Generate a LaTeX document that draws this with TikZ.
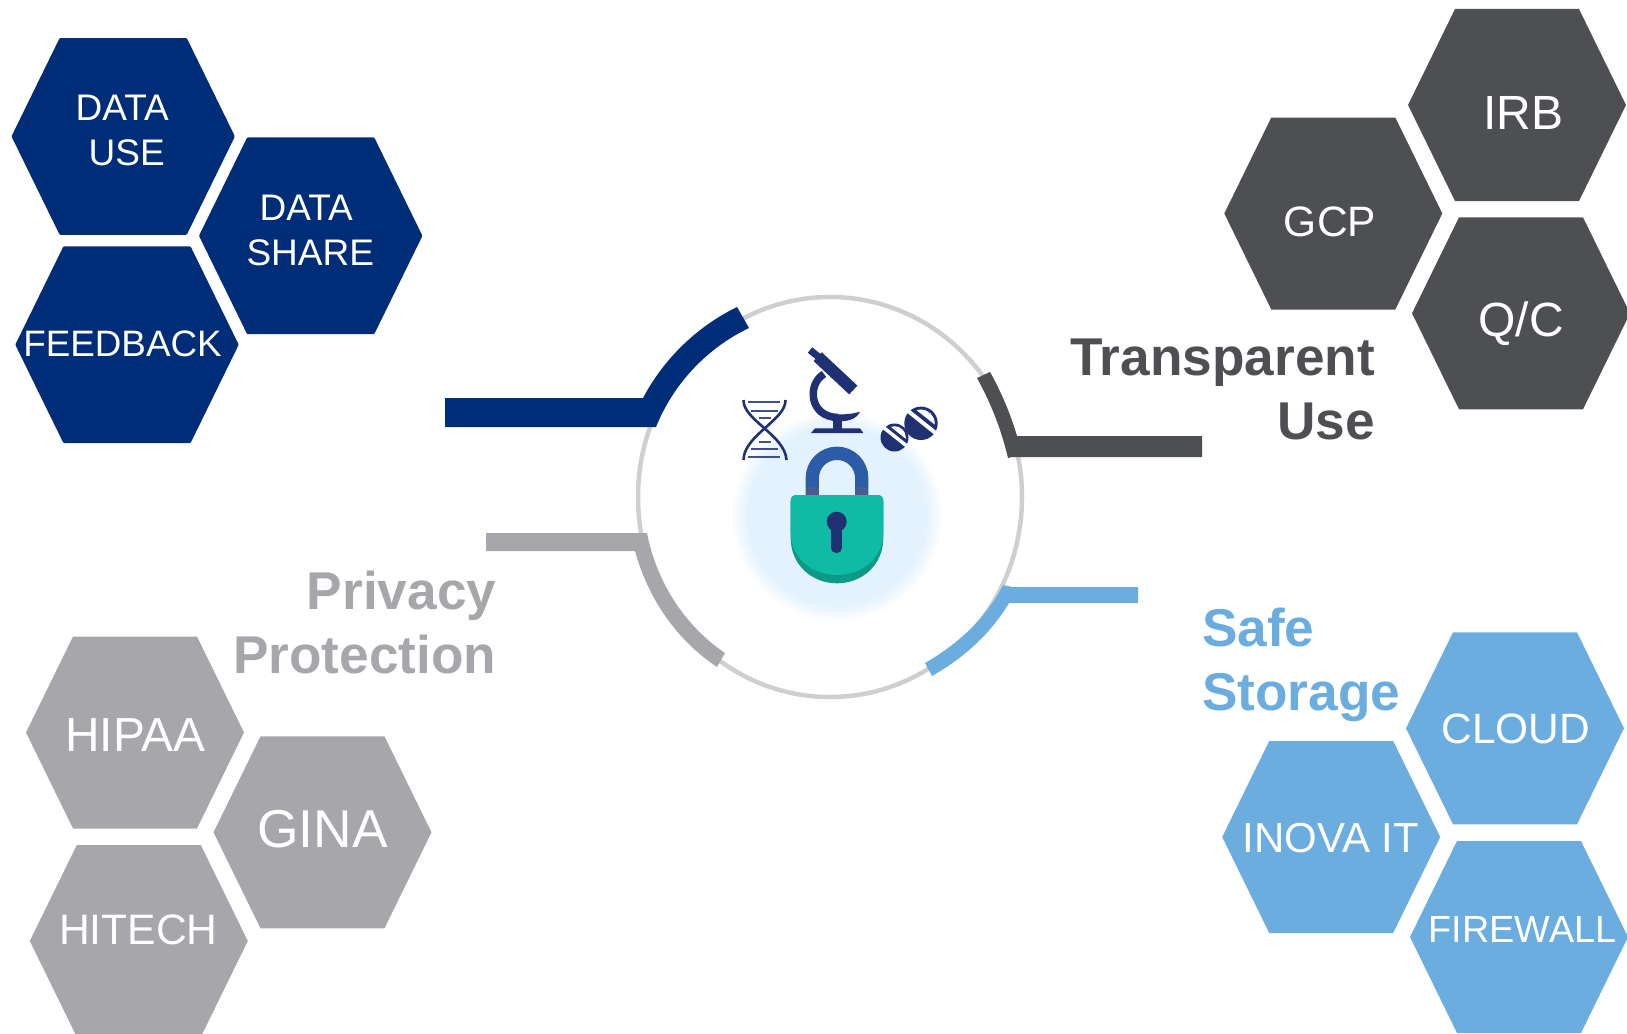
\documentclass[tikz,border=0pt]{standalone}
\usepackage{fontspec}
\setmainfont{Liberation Sans}
\definecolor{navyblue}{HTML}{002D77}
\definecolor{darkgrey}{HTML}{4E4F53}
\definecolor{midgrey}{HTML}{A7A7AB}
\definecolor{skyblue}{HTML}{6CADDF}
\definecolor{ringgrey}{HTML}{CFCFCF}
\definecolor{iconblue}{HTML}{1F3173}
\definecolor{shackleblue}{HTML}{2C5CA6}
\definecolor{lockteal}{HTML}{0FBBA5}
\definecolor{lockshade}{HTML}{0A9A86}
\definecolor{glowblue}{HTML}{E4F2FD}
\pgfdeclareradialshading{glowshade}{\pgfpointorigin}{color(0bp)=(glowblue);color(21bp)=(glowblue);color(25bp)=(white);color(50bp)=(white)}
\tikzset{
  celltext/.style={text=white,inner sep=0pt,align=center,anchor=base,font=\fontsize{#1}{45}\selectfont},
  headtext/.style={inner sep=0pt,font=\fontsize{53.2}{64}\selectfont\bfseries},
  rung/.style={iconblue!85,line width=1.8pt},
  strand/.style={iconblue,line width=2.6pt}
}
\newcommand{\hexcell}[3][]{\fill[#3,shift={(#2)},#1]
  (-109,0) -- (-62,96) -- (62,96) -- (109,0) -- (62,-96) -- (-62,-96) -- cycle;}

\begin{document}
\begin{tikzpicture}[x=1pt,y=-1pt]
  \useasboundingbox (0,0) rectangle (1627,1033);
  \clip (0,0) rectangle (1627,1033);

  \hexcell[scale=1.025,rounded corners=1pt]{123.2,136.4}{navyblue}
  \hexcell[scale=1.025,rounded corners=1pt]{310.7,235.8}{navyblue}
  \hexcell[scale=1.025,rounded corners=1pt]{127,344.7}{navyblue}
  \node[celltext=37] (datause) at (122.2,165) {DATA\\\hspace*{9pt}USE};
  \node[celltext=37] (datashare) at (310.3,265) {DATA\hspace*{8pt}\\SHARE};
  \node[celltext=36.8] (feedback) at (122.5,356.7) {FEEDBACK};

  \hexcell{1517,105}{darkgrey}
  \hexcell{1333.3,213.5}{darkgrey}
  \hexcell{1521,313.3}{darkgrey}
  \node[celltext=48] (irb) at (1523,129) {IRB};
  \node[celltext=42.5] (gcp) at (1330,236.7) {GCP};
  \node[celltext=48] (qc) at (1521,336.7) {Q/C};

  \hexcell{135,732.5}{midgrey}
  \hexcell{322.5,832.3}{midgrey}
  \hexcell{138.8,941}{midgrey}
  \node[celltext=47.8] (hipaa) at (135.4,751) {HIPAA};
  \node[celltext=53.3] (gina) at (322.4,847.7) {GINA};
  \node[celltext=42.6] (hitech) at (138.3,944.3) {HITECH};

  \hexcell{1515,728.3}{skyblue}
  \hexcell{1331.2,837}{skyblue}
  \hexcell{1519,937}{skyblue}
  \node[celltext=42.4] (cloud) at (1516,743) {CLOUD};
  \node[celltext=42] (inova) at (1331,852.3) {INOVA IT};
  \node[celltext=37.8] (firewall) at (1522.5,942.3) {FIREWALL};

  \node[headtext,text=darkgrey,align=right,anchor=base east] (transparent) at (1375,439) {Transparent\\Use};
  \node[headtext,text=midgrey,align=right,anchor=base east] (privacy) at (496.5,673.3) {Privacy\\Protection};
  \node[headtext,text=skyblue,align=left,anchor=base west] (safe) at (1202,710) {Safe\\Storage};

  \draw[ringgrey,line width=4.5pt] (830,497) ellipse [x radius=192,y radius=200];

  \fill[navyblue] (445,398) -- (643,398) .. controls (663.9,358.6) and (697,326.6) .. (737,307)
    -- (749,328) .. controls (707,348) and (673.4,383.7) .. (656,427) -- (445,427) -- cycle;
  \fill[darkgrey] (1202,436) -- (1017,436) .. controls (1010.4,413.7) and (1001.4,392.3) .. (990,372)
    -- (977,378) .. controls (991,403.3) and (1001.4,429.9) .. (1008,458) -- (1012,457) -- (1202,457) -- cycle;
  \fill[midgrey] (486,533) -- (647,533) .. controls (656.6,581.6) and (684,625.3) .. (725,653)
    -- (717,667) .. controls (676.3,639.9) and (648,598.2) .. (635,551) -- (486,551) -- cycle;
  \fill[skyblue] (1138,587) -- (1012,587) -- (1003,585) .. controls (986,618.4) and (957.5,644.4) .. (925,663)
    -- (932,676) .. controls (963.3,658.2) and (990.6,634) .. (1009,603) -- (1138,603) -- cycle;

  \shade[shading=glowshade] (836.7,515.7) circle [radius=106];

  \draw[strand] (743.5,400) .. controls (743,420) and (785,435) .. (786.5,460);
  \draw[strand] (785.5,400) .. controls (786,420) and (744,435) .. (743.5,460);
  \draw[rung] (748.3,402.3) -- (780,402.3);
  \draw[rung] (750.7,410.7) -- (778.3,410.7);
  \draw[rung] (759.3,417.7) -- (770.7,417.7);
  \draw[rung] (759.3,441.7) -- (770.7,441.7);
  \draw[rung] (750.7,449.3) -- (778.3,449.3);
  \draw[rung] (748.3,457.3) -- (780,457.3);

  \draw[iconblue,line width=7pt] (810,350) -- (818.3,356.7);
  \draw[iconblue,line width=12pt] (817.7,356.7) -- (853.3,390);
  \draw[iconblue,line width=7.5pt] (824,374) .. controls (807,384) and (809,417) .. (838,417.5);
  \fill[iconblue] (835,414.5) .. controls (845,414.5) and (853,414) .. (860,411.7)
    .. controls (856,420) and (846,422) .. (836,421) -- cycle;
  \fill[iconblue] (833.3,418) rectangle (841.7,430);
  \fill[iconblue] (815,428.3) -- (860,428.3) -- (863.3,433) -- (811,433) -- cycle;

  \fill[iconblue] (921,423.3) circle [radius=16.7];
  \draw[white,line width=4pt] (907.9,410.9) -- (935.9,433.3);
  \begin{scope}
    \clip (921,423.3) circle [radius=13.7];
    \fill[white] (913.2,407.5) -- (938.1,427.3) -- (946.8,416.4) -- (921.9,396.6) -- cycle;
  \end{scope}
  \fill[iconblue] (894.5,437.5) circle [radius=14];
  \draw[white,line width=3.5pt] (883.4,427.4) -- (906.8,446);
  \begin{scope}
    \clip (894.5,437.5) circle [radius=11.3];
    \fill[white] (888.1,424.7) -- (908.3,440.9) -- (915.7,431.5) -- (895.5,415.3) -- cycle;
  \end{scope}

  \draw[shackleblue,line width=13.3pt] (812.3,495) -- (812.3,478) arc [start angle=180,end angle=360,radius=24.7] -- (861.7,495);
  \fill[iconblue!80] (805.7,487) rectangle (818.9,495);
  \fill[iconblue!80] (855,487) rectangle (868.3,495);
  \fill[lockshade] (790.7,501) .. controls (790.7,497) and (793,495) .. (797,495) -- (877,495)
    .. controls (881,495) and (883.3,497) .. (883.3,501) -- (883.3,538)
    .. controls (883.3,565) and (862,583.3) .. (837,583.3)
    .. controls (812,583.3) and (790.7,565) .. (790.7,538) -- cycle;
  \fill[lockteal] (790.7,501) .. controls (790.7,497) and (793,495) .. (797,495) -- (877,495)
    .. controls (881,495) and (883.3,497) .. (883.3,501) -- (883.3,532)
    .. controls (883.3,558) and (862,575) .. (837,575)
    .. controls (812,575) and (790.7,558) .. (790.7,532) -- cycle;
  \fill[iconblue] (836.7,521.7) circle [radius=10];
  \draw[iconblue,line width=10.5pt,line cap=round] (836.7,525) -- (836.7,548);
\end{tikzpicture}
\end{document}
